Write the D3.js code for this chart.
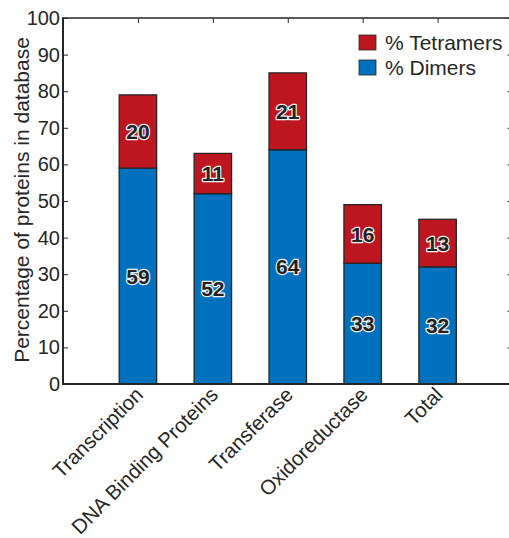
<!DOCTYPE html>
<html><head><meta charset="utf-8">
<script src="https://cdn.jsdelivr.net/npm/d3@7"></script>
<style>body{margin:0;background:#fff}svg{display:block}</style>
</head><body>
<script>
const categories = ["Transcription","DNA Binding Proteins","Transferase","Oxidoreductase","Total"];
const dimers = [59,52,64,33,32];
const tetramers = [20,11,21,16,13];
const yTicks = [0,10,20,30,40,50,60,70,80,90,100];
const seriesNames = ["% Tetramers","% Dimers"];
const colors = {dimers:"#0071bc", tetramers:"#be1621"};

const W=509,H=538;
const m={left:63,top:18,right:512.5,bottom:384};
const font="'Liberation Sans', Arial, Helvetica, sans-serif";
const ink="#262626";

const svg=d3.select("body").append("svg").attr("width",W).attr("height",H);

const x=d3.scaleLinear().domain([0,6]).range([m.left,m.right]);
const y=d3.scaleLinear().domain([0,100]).range([m.bottom,m.top]);
const bw=(x(1)-x(0))*0.5;

const data=categories.map((c,i)=>({c,i:i+1,d:dimers[i],t:tetramers[i]}));

const g=svg.append("g");
g.selectAll("rect.d").data(data).join("rect")
 .attr("x",d=>x(d.i)-bw/2).attr("width",bw)
 .attr("y",d=>y(d.d)).attr("height",d=>y(0)-y(d.d))
 .attr("fill",colors.dimers).attr("stroke",ink).attr("stroke-width",1.3);
g.selectAll("rect.t").data(data).join("rect")
 .attr("x",d=>x(d.i)-bw/2).attr("width",bw)
 .attr("y",d=>y(d.d+d.t)).attr("height",d=>y(d.d)-y(d.d+d.t))
 .attr("fill",colors.tetramers).attr("stroke",ink).attr("stroke-width",1.3);

function vlabel(sel){
  sel.attr("text-anchor","middle").attr("dy","0.36em")
   .attr("font-family",font).attr("font-weight","bold").attr("font-size",21)
   .attr("fill","#222").attr("stroke","#f4f4f4").attr("stroke-width",2.4)
   .attr("paint-order","stroke").attr("stroke-linejoin","round");
}
g.selectAll("text.d").data(data).join("text")
 .attr("x",d=>x(d.i)).attr("y",d=>y(d.d/2)).text(d=>d.d).call(vlabel);
g.selectAll("text.t").data(data).join("text")
 .attr("x",d=>x(d.i)).attr("y",d=>y(d.d+d.t/2)).text(d=>d.t).call(vlabel);

const yAxis=d3.axisLeft(y).tickValues(yTicks).tickSize(-5).tickPadding(4);
const ya=svg.append("g").attr("transform",`translate(${m.left},0)`).call(yAxis);
ya.select(".domain").remove();
ya.selectAll("line").attr("stroke",ink);
ya.selectAll("text").attr("font-family",font).attr("font-size",20).attr("fill",ink).attr("dx","0.05em");

const yAxisR=d3.axisRight(y).tickValues(yTicks).tickSize(-5).tickFormat("");
const yr=svg.append("g").attr("transform",`translate(${m.right},0)`).call(yAxisR);
yr.select(".domain").remove(); yr.selectAll("line").attr("stroke",ink);

const xTop=d3.axisTop(x).tickValues(data.map(d=>d.i)).tickSize(-5).tickFormat("");
const xt=svg.append("g").attr("transform",`translate(0,${m.top})`).call(xTop);
xt.select(".domain").remove(); xt.selectAll("line").attr("stroke",ink);

const xBot=d3.axisBottom(x).tickValues(data.map(d=>d.i)).tickSize(0).tickFormat((d,i)=>categories[i]);
const xb=svg.append("g").attr("transform",`translate(0,${m.bottom})`).call(xBot);
xb.select(".domain").remove();
xb.selectAll("text").attr("font-family",font).attr("font-size",20.5).attr("fill",ink)
 .attr("text-anchor","end").attr("y",0).attr("dy",0)
 .attr("transform","translate(6,12) rotate(-45)");

svg.append("line").attr("x1",m.left).attr("x2",m.right).attr("y1",m.top).attr("y2",m.top).attr("stroke",ink).attr("stroke-width",1.5);
svg.append("line").attr("x1",m.right).attr("x2",m.right).attr("y1",m.top).attr("y2",m.bottom).attr("stroke",ink).attr("stroke-width",1.5);
svg.append("line").attr("x1",m.left).attr("x2",m.left).attr("y1",m.top-0.75).attr("y2",m.bottom+1).attr("stroke",ink).attr("stroke-width",2);
svg.append("line").attr("x1",m.left-1).attr("x2",m.right).attr("y1",m.bottom).attr("y2",m.bottom).attr("stroke",ink).attr("stroke-width",2);

svg.append("text").attr("transform",`translate(29,${(m.top+m.bottom)/2-1}) rotate(-90)`)
 .attr("text-anchor","middle").attr("font-family",font).attr("font-size",21).attr("fill",ink)
 .text("Percentage of proteins in database");

const leg=svg.append("g");
const legColors=[colors.tetramers,colors.dimers];
const legY=[42.5,67.5];
seriesNames.forEach((s,i)=>{
  leg.append("rect").attr("x",359).attr("y",legY[i]-7.5).attr("width",17).attr("height",15)
   .attr("fill",legColors[i]).attr("stroke",ink).attr("stroke-width",0.8);
  leg.append("text").attr("x",385).attr("y",legY[i]).attr("dy","0.35em")
   .attr("font-family",font).attr("font-size",21).attr("fill",ink).text(s);
});
</script>
</body></html>
